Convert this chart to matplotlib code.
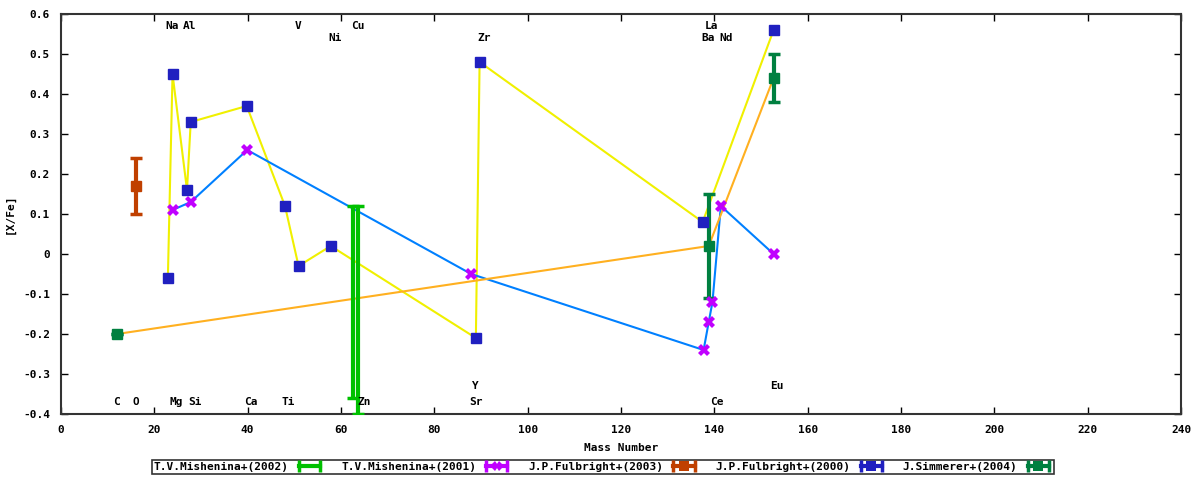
import matplotlib.pyplot as plt
from matplotlib.lines import Line2D
from matplotlib.legend_handler import HandlerLine2D, HandlerTuple

# T.V.Mishenina+(2002) - error bars only
mish02_x = [62.6, 63.6]
mish02_y = [-0.12, -0.14]
mish02_lo = [-0.36, -0.40]
mish02_hi = [0.12, 0.12]

# T.V.Mishenina+(2001)
mish01_x = [23.9, 27.8, 39.9, 87.9, 137.7, 138.8, 139.6, 141.4, 152.7]
mish01_y = [0.11, 0.13, 0.26, -0.05, -0.24, -0.17, -0.12, 0.12, 0.00]

# J.P.Fulbright+(2003)
fulb03_x = [16.1]
fulb03_y = [0.17]
fulb03_lo = [0.10]
fulb03_hi = [0.24]

# J.P.Fulbright+(2000)
fulb00_x = [22.9, 23.9, 27.0, 27.8, 39.8, 48.0, 50.9, 57.8, 88.9, 89.7, 137.5, 152.7]
fulb00_y = [-0.06, 0.45, 0.16, 0.33, 0.37, 0.12, -0.03, 0.02, -0.21, 0.48, 0.08, 0.56]

# J.Simmerer+(2004)
simm04_x = [12.0, 138.8, 152.7]
simm04_y = [-0.20, 0.02, 0.44]
simm04_lo = [-0.20, -0.11, 0.38]
simm04_hi = [-0.20, 0.15, 0.50]

# element labels (name, x, y)
elem_names = ['Na', 'Al', 'V', 'Cu', 'La', 'Ni', 'Zr', 'Ba', 'Nd',
              'C', 'O', 'Mg', 'Si', 'Ca', 'Ti', 'Zn', 'Sr', 'Ce', 'Y', 'Eu']
elem_x = [23.8, 27.6, 50.8, 63.6, 139.5, 58.7, 90.6, 138.6, 142.5,
          12.0, 16.1, 24.6, 28.7, 40.7, 48.6, 64.9, 88.9, 140.6, 88.9, 153.4]
elem_y = [0.57, 0.57, 0.57, 0.57, 0.57, 0.54, 0.54, 0.54, 0.54,
          -0.37, -0.37, -0.37, -0.37, -0.37, -0.37, -0.37, -0.37, -0.37, -0.33, -0.33]

c_lime = '#00c000'
c_mag = '#c000ff'
c_red = '#c04000'
c_blue = '#2020c0'
c_dgreen = '#008040'
c_yellow = '#f0f000'
c_sky = '#0080ff'
c_orange = '#ffb020'

font = dict(family='DejaVu Sans Mono', weight='bold', size=8)

fig = plt.figure(figsize=(12, 4.8), dpi=100)
ax = fig.add_axes([61 / 1200, 1 - 414 / 480, 1120 / 1200, 400 / 480])

# connecting lines
ax.plot(fulb00_x, fulb00_y, color=c_yellow, lw=1.5, zorder=2)
ax.plot(mish01_x, mish01_y, color=c_sky, lw=1.5, zorder=2)
ax.plot(simm04_x, simm04_y, color=c_orange, lw=1.5, zorder=2)


def ebar(x, y, lo, hi, color, marker, ms):
    ax.errorbar(x, y,
                yerr=[[a - b for a, b in zip(y, lo)], [b - a for a, b in zip(y, hi)]],
                fmt=marker, color=color, ms=ms, elinewidth=3, capsize=4,
                capthick=2.5, zorder=3)


ebar(mish02_x, mish02_y, mish02_lo, mish02_hi, c_lime, 'none', 0)
ebar(fulb03_x, fulb03_y, fulb03_lo, fulb03_hi, c_red, 's', 7)
ebar(simm04_x, simm04_y, simm04_lo, simm04_hi, c_dgreen, 's', 7)
ax.plot(mish01_x, mish01_y, 'X', color=c_mag, ms=8, mew=0, ls='none', zorder=4)
ax.plot(fulb00_x, fulb00_y, 's', color=c_blue, ms=7, ls='none', zorder=4)

for name, x, y in zip(elem_names, elem_x, elem_y):
    ax.text(x, y, name, ha='center', va='center', **font)

ax.set_xlim(0, 240)
ax.set_ylim(-0.4, 0.6)
ax.set_xticks(range(0, 241, 20))
yt = [round(-0.4 + 0.1 * i, 1) for i in range(11)]
ax.set_yticks(yt)
ax.set_yticklabels(['0' if v == 0 else ('%g' % v) for v in yt])
ax.tick_params(direction='in', top=True, right=True, length=5, width=1,
               pad=8)
for lab in ax.get_xticklabels() + ax.get_yticklabels():
    lab.set_fontfamily('DejaVu Sans Mono')
    lab.set_fontweight('bold')
    lab.set_fontsize(8)
for sp in ax.spines.values():
    sp.set_linewidth(1.5)
    sp.set_color('#333333')

ax.set_xlabel('Mass Number', labelpad=6, **font)
ax.set_ylabel('[X/Fe]', labelpad=6, **font)

# legend: text followed by an errorbar-like sample
labels = ['T.V.Mishenina+(2002)', 'T.V.Mishenina+(2001)', 'J.P.Fulbright+(2003)',
          'J.P.Fulbright+(2000)', 'J.Simmerer+(2004)']
colors = [c_lime, c_mag, c_red, c_blue, c_dgreen]
marks = [None, 'X', 's', 's', 's']
handles = []
hmap = {}
for col, mk in zip(colors, marks):
    cap = Line2D([], [], color=col, lw=3, marker='|', ms=9, mew=2.5)
    hmap[cap] = HandlerLine2D(numpoints=2)
    if mk is None:
        handles.append(cap)
    else:
        mid = Line2D([], [], color=col, ls='none', marker=mk, ms=7, mew=0)
        hmap[mid] = HandlerLine2D(numpoints=1)
        handles.append((cap, mid))
hmap[tuple] = HandlerTuple(ndivide=1)
leg = fig.legend(handles, labels, handler_map=hmap, ncol=5, markerfirst=False,
                 loc='center', bbox_to_anchor=(0.5025, 1 - 467 / 480),
                 frameon=True, fancybox=False, edgecolor='black',
                 borderpad=0.15, handlelength=2.5, handletextpad=0.6,
                 columnspacing=1.6, prop=dict(family='DejaVu Sans Mono',
                                              weight='bold', size=8))
leg.get_frame().set_linewidth(1.2)

fig.savefig('out.png', dpi=100)
